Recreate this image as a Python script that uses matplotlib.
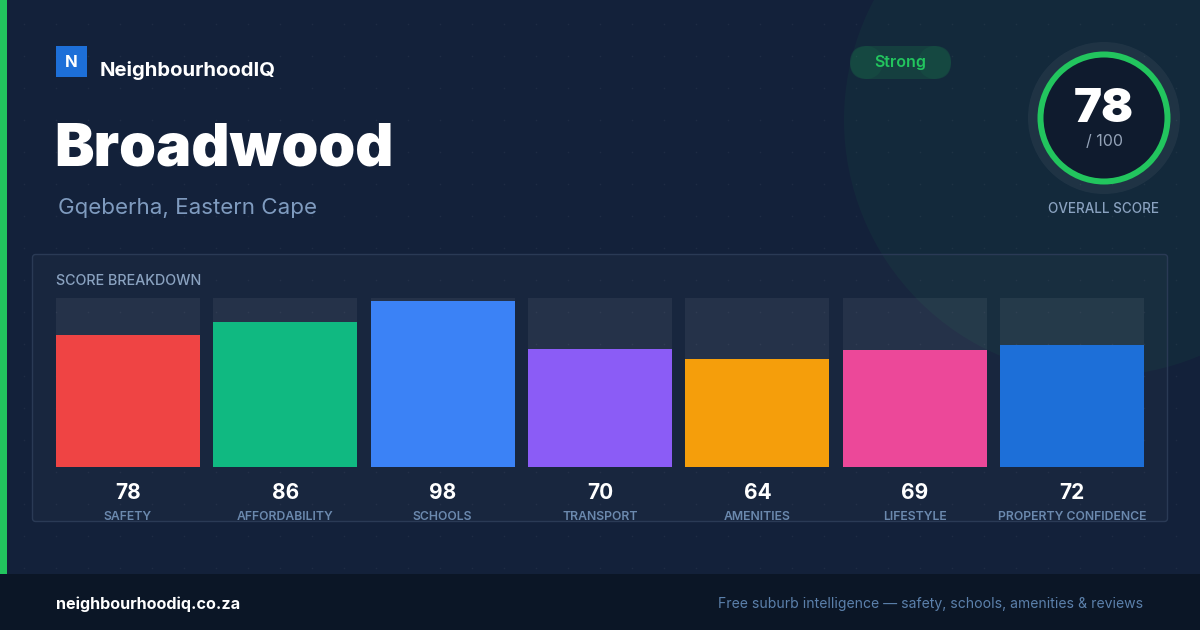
import matplotlib
matplotlib.use("Agg")
import matplotlib.pyplot as plt
from matplotlib.patches import Rectangle, Circle, FancyBboxPatch
import matplotlib.transforms as mtransforms
import numpy as np

# ---------------- data ----------------
suburb = "Broadwood"
location = "Gqeberha, Eastern Cape"
brand = "NeighbourhoodIQ"
overall_score = 78
rating_label = "Strong"
categories = ["SAFETY", "AFFORDABILITY", "SCHOOLS", "TRANSPORT", "AMENITIES", "LIFESTYLE", "PROPERTY CONFIDENCE"]
scores = [78, 86, 98, 70, 64, 69, 72]
bar_colors = ["#ef4444", "#10b981", "#3b82f6", "#8b5cf6", "#f59e0b", "#ec4899", "#1d6fd8"]
footer_left = "neighbourhoodiq.co.za"
footer_right = "Free suburb intelligence \u2014 safety, schools, amenities & reviews"

plt.rcParams['font.family'] = ['Inter', 'DejaVu Sans']

W, H = 1200, 630
BG = "#13213a"
fig = plt.figure(figsize=(12, 6.3), dpi=100, facecolor=BG)

# background axes in pixel coordinates
bg = fig.add_axes([0, 0, 1, 1])
bg.set_xlim(0, W)
bg.set_ylim(H, 0)
bg.axis("off")
bg.add_patch(Rectangle((0, 0), W, H, facecolor=BG, edgecolor="none", zorder=0))

# big decorative circle
bg.add_patch(Circle((1100, 120), 256, facecolor="#22c55e", alpha=0.05, edgecolor="none", zorder=1))

# dot grid
gx, gy = np.meshgrid(np.arange(24, W, 32), np.arange(24, 574, 32))
bg.scatter(gx.ravel(), gy.ravel(), s=1.2, color="#ffffff", alpha=0.05, linewidths=0, zorder=1)

# left accent strip
bg.add_patch(Rectangle((0, 0), 7, 574, facecolor="#22c55e", edgecolor="none", zorder=3))

# footer
bg.add_patch(Rectangle((0, 574), W, 56, facecolor="#0b1626", edgecolor="none", zorder=3))
bg.text(56, 604, footer_left, color="white", fontsize=11.6, fontweight="bold", va="center", ha="left", zorder=4)
bg.text(1143, 604, footer_right, color="#5b80ab", fontsize=10.1, va="center", ha="right", zorder=4)

# logo
bg.add_patch(Rectangle((56, 46), 31, 31, facecolor="#1d6fd8", edgecolor="none", zorder=3))
bg.text(71.5, 62.5, "N", color="white", fontsize=12, fontweight="bold", ha="center", va="center", zorder=4)
bg.text(100, 70, brand, color="white", fontsize=14.6, fontweight="bold", ha="left", va="center", zorder=4)

# title + subtitle
bg.text(54, 150, suburb, color="white", fontsize=42.6, fontweight="black", ha="left", va="center", zorder=4)
bg.text(58, 208, location, color="#7f9bbf", fontsize=16.1, ha="left", va="center", zorder=4)

# badge
bg.add_patch(FancyBboxPatch((850, 46), 101, 33, boxstyle="round,pad=0,rounding_size=16.5",
                            facecolor="#22c55e", alpha=0.14, edgecolor="none", zorder=3))
bg.add_patch(Circle((866.5, 62.5), 16.5, facecolor="#22c55e", alpha=0.07, edgecolor="none", zorder=3))
bg.add_patch(Circle((934.5, 62.5), 16.5, facecolor="#22c55e", alpha=0.07, edgecolor="none", zorder=3))
bg.text(900.5, 63, rating_label, color="#22c55e", fontsize=11.5, fontweight="semibold", ha="center", va="center", zorder=4)

# overall score ring
cx, cy = 1104, 118
bg.add_patch(Circle((cx, cy), 76, facecolor="#ffffff", alpha=0.05, edgecolor="none", zorder=3))
bg.add_patch(Circle((cx, cy), 66, facecolor="#0f1b2e", edgecolor="none", zorder=3))
bg.add_patch(Circle((cx, cy), 63.5, facecolor="none", edgecolor="#22c55e", linewidth=6 * 0.72, zorder=4))
bg.text(cx, 110, str(overall_score), color="white", fontsize=34, fontweight="black", ha="center", va="center", zorder=5)
bg.text(cx, 142, "/ 100", color="#94a3b8", fontsize=11.5, ha="center", va="center", zorder=5)
bg.text(cx, 209, "OVERALL SCORE", color="#8aa2c0", fontsize=9.7, fontweight="medium", ha="center", va="center", zorder=5)

# breakdown panel
bg.add_patch(FancyBboxPatch((32.5, 254.5), 1135, 267, boxstyle="round,pad=0,rounding_size=3",
                            facecolor="#ffffff", alpha=0.025, edgecolor="none", zorder=2))
bg.add_patch(FancyBboxPatch((32.5, 254.5), 1135, 267, boxstyle="round,pad=0,rounding_size=3",
                            facecolor="none", edgecolor="#2a3a55", linewidth=1, zorder=2))
bg.text(56, 281, "SCORE BREAKDOWN", color="#8aa2c0", fontsize=10.3, fontweight="medium", ha="left", va="center", zorder=4)

# bar axes
left_px, right_px, top_px, bot_px = 56, 1144, 298, 467
ax = fig.add_axes([left_px / W, (H - bot_px) / H, (right_px - left_px) / W, (bot_px - top_px) / H])
ax.patch.set_alpha(0)
n = len(categories)
pitch = (right_px - left_px - 144) / (n - 1)
bw = 144 / pitch
x = np.arange(n)
ax.bar(x, [100] * n, width=bw, color="#ffffff", alpha=0.06, linewidth=0, zorder=1)
ax.bar(x, scores, width=bw, color=bar_colors, linewidth=0, zorder=2)
ax.set_xlim(-bw / 2, n - 1 + bw / 2)
ax.set_ylim(0, 100)
ax.axis("off")
trans = mtransforms.blended_transform_factory(ax.transData, ax.transAxes)
for i, (c, v) in enumerate(zip(categories, scores)):
    ax.text(i, (467 - 493) / 169, str(v), transform=trans, color="white", fontsize=15, fontweight="bold",
            ha="center", va="center")
    ax.text(i, (467 - 517) / 169, c, transform=trans, color="#6b89ae", fontsize=8.8, fontweight="semibold",
            ha="center", va="center")

fig.savefig("out.png", dpi=100, facecolor=BG)
